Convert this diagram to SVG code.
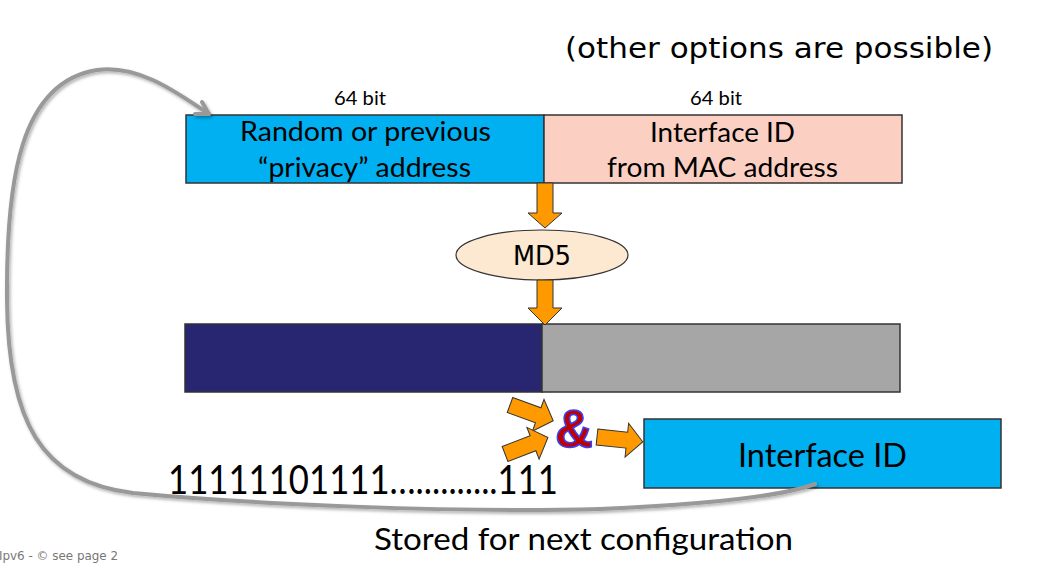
<svg xmlns="http://www.w3.org/2000/svg" width="1042" height="563" viewBox="0 0 1042 563">
<defs>
<style>
.box{stroke:#333;stroke-width:1.5}
.gs{font-family:Lato,"Open Sans","Noto Sans",sans-serif;fill:#000}
.vd{font-family:"DejaVu Sans",Verdana,sans-serif;fill:#000}
.arr{fill:#FF9900;stroke:#333;stroke-width:1}
.loop{fill:none;stroke:#999;stroke-width:4;stroke-linecap:round;stroke-linejoin:round}
</style>
<filter id="sh" x="-10%" y="-10%" width="120%" height="120%">
<feDropShadow dx="1.5" dy="2" stdDeviation="1.5" flood-color="#000" flood-opacity="0.3"/>
</filter>
<polygon id="blk" points="0,-8 30,-8 30,-17 46,0 30,17 30,8 0,8"/>
</defs>
<rect width="1042" height="563" fill="#fff"/>

<text class="vd" x="565" y="58" font-size="29" textLength="428" lengthAdjust="spacingAndGlyphs">(other options are possible)</text>

<g id="label-64-left"><text class="gs" x="360" y="105" font-size="19" text-anchor="middle" textLength="52" lengthAdjust="spacingAndGlyphs">64 bit</text></g>
<g id="label-64-right"><text class="gs" x="716" y="105" font-size="19" text-anchor="middle" textLength="52" lengthAdjust="spacingAndGlyphs">64 bit</text></g>

<g id="node-random">
<rect class="box" x="186" y="115" width="358" height="68" fill="#00B0F0"/>
<text class="gs" x="365.5" y="141" font-size="27" text-anchor="middle" textLength="251" lengthAdjust="spacingAndGlyphs">Random or previous</text>
<text class="gs" x="364.5" y="177" font-size="27" text-anchor="middle" textLength="213" lengthAdjust="spacingAndGlyphs">“privacy” address</text>
</g>
<g id="node-mac">
<rect class="box" x="544" y="115" width="358" height="68" fill="#FBD0C2"/>
<text class="gs" x="722.5" y="142" font-size="27" text-anchor="middle" textLength="145" lengthAdjust="spacingAndGlyphs">Interface ID</text>
<text class="gs" x="722.5" y="177" font-size="27" text-anchor="middle" textLength="231" lengthAdjust="spacingAndGlyphs">from MAC address</text>
</g>

<g id="node-md5">
<ellipse cx="542" cy="255" rx="86" ry="25" fill="#FDE9D1" stroke="#333" stroke-width="1.2"/>
<text class="vd" x="542" y="265" font-size="26" text-anchor="middle" textLength="58" lengthAdjust="spacingAndGlyphs">MD5</text>
</g>

<g id="node-hash-left">
<rect class="box" x="185" y="324" width="357" height="68" fill="#282670"/>
</g>
<g id="node-hash-right">
<rect class="box" x="542" y="324" width="358" height="68" fill="#A6A6A6"/>
</g>

<g id="node-and">
<text x="555" y="447" font-family="Liberation Sans,Arial,sans-serif" font-weight="bold" font-size="53" fill="#C00000" stroke="#3344FF" stroke-width="1.5" textLength="38" lengthAdjust="spacingAndGlyphs">&amp;</text>
</g>

<g id="node-mask">
<text class="gs" x="168" y="494" font-size="40" textLength="390" lengthAdjust="spacingAndGlyphs">11111101111…..........111</text>
</g>

<g id="node-iid">
<rect class="box" x="644" y="419" width="357" height="69" fill="#00B0F0"/>
<text class="gs" x="822.5" y="467" font-size="33" text-anchor="middle" textLength="169" lengthAdjust="spacingAndGlyphs">Interface ID</text>
</g>

<g id="connectors">
<polygon class="arr" points="537,183 553,183 553,213 562,213 545,228 528,213 537,213"/>
<polygon class="arr" points="537,280 553,280 553,308 562,308 545,325 528,308 537,308"/>
<use href="#blk" class="arr" transform="translate(510,405) rotate(20)"/>
<use href="#blk" class="arr" transform="translate(505,454) rotate(-21)"/>
<use href="#blk" class="arr" transform="translate(597,437) rotate(6)"/>
<g filter="url(#sh)">
<path class="loop" d="M815,484 C790,493 740,503 600,509 C450,513 250,504 133,493 C40,482 8,420 7,300 C6,180 20,82 97,70 C140,64 180,95 209,114"/>
<polyline class="loop" points="202,102 209,114 195,114" stroke-width="3.5"/>
</g>
</g>

<g id="caption">
<text class="gs" x="583.5" y="550" font-size="31" text-anchor="middle" textLength="419" lengthAdjust="spacingAndGlyphs">Stored for next configuration</text>
</g>
<g id="footer">
<text x="-1" y="560" font-family="DejaVu Sans,sans-serif" font-size="12" fill="#777" textLength="119" lengthAdjust="spacingAndGlyphs">Ipv6 - © see page 2</text>
</g>
</svg>
